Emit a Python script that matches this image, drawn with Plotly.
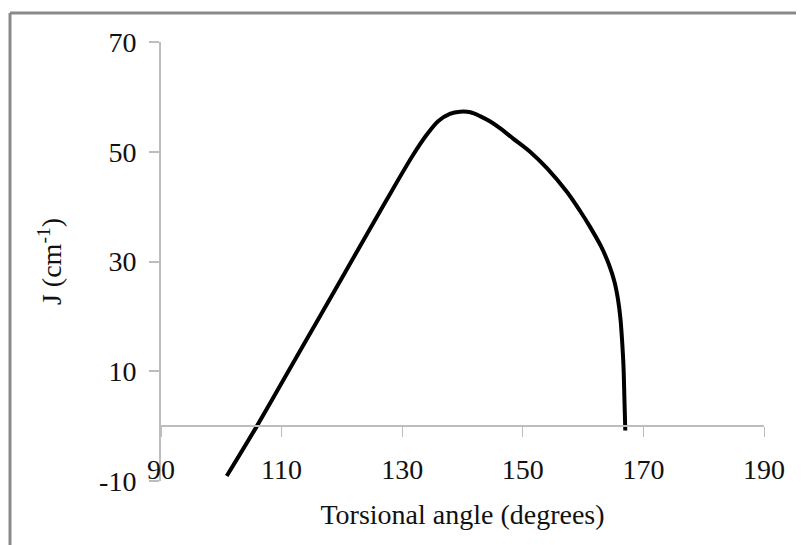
import plotly.graph_objects as go

# Data
torsional_angle = [100.9, 105.9, 113.0, 120.0, 127.4, 131.8, 134.0, 136.0, 137.9, 139.6,
                   141.3, 142.9, 144.6, 146.2, 148.4, 151.2, 154.0, 157.3, 159.5, 161.1,
                   163.0, 164.3, 165.2, 165.8, 166.2, 166.5, 166.7, 166.85, 167.0]
j_values = [-9.1, 0.0, 13.6, 27.0, 41.2, 49.4, 53.0, 55.6, 56.9, 57.3,
            57.2, 56.5, 55.5, 54.3, 52.4, 50.0, 47.0, 42.7, 39.2, 36.4,
            32.7, 29.4, 26.3, 23.0, 19.5, 15.0, 10.9, 5.0, -0.8]

x_ticks = [90, 110, 130, 150, 170, 190]
y_ticks = [-10, 10, 30, 50, 70]

FONT = "Liberation Serif, Times New Roman, serif"
AXIS_GRAY = "#bdbdbd"

fig = go.Figure()
fig.add_trace(go.Scatter(
    x=torsional_angle, y=j_values, mode="lines",
    line=dict(color="black", width=4, shape="spline", smoothing=0.9),
    showlegend=False, hoverinfo="x+y",
))

fig.update_layout(
    width=796, height=537,
    margin=dict(l=153, r=40, t=34, b=64),
    paper_bgcolor="white", plot_bgcolor="white",
    font=dict(family=FONT, size=28, color="#111111"),
    xaxis=dict(
        range=[90, 190], tickvals=x_ticks, ticktext=[str(v) for v in x_ticks],
        anchor="free", position=(0 - (-10)) / 80,
        showline=True, linecolor=AXIS_GRAY, linewidth=2,
        ticks="outside", ticklen=10, tickwidth=1, tickcolor=AXIS_GRAY,
        ticklabelstandoff=8, automargin=False,
        showgrid=False, zeroline=False,
        title=dict(text="Torsional angle (degrees)", font=dict(size=28), standoff=20),
    ),
    yaxis=dict(
        range=[-10, 70], tickvals=y_ticks, ticktext=[str(v) for v in y_ticks],
        showline=True, linecolor=AXIS_GRAY, linewidth=2,
        ticks="outside", ticklen=10, tickwidth=1.5, tickcolor=AXIS_GRAY,
        ticklabelstandoff=7, automargin=False,
        showgrid=False, zeroline=False,
        title=dict(text="J (cm<sup>-1</sup>)", font=dict(size=28), standoff=29),
    ),
    shapes=[
        dict(type="line", xref="paper", yref="paper",
             x0=-0.2504, x1=-0.2504, y0=-0.2, y1=1.066,
             line=dict(color="#8a8a8a", width=3)),
        dict(type="line", xref="paper", yref="paper",
             x0=-0.2504, x1=1.1, y0=1.066, y1=1.066,
             line=dict(color="#8a8a8a", width=3)),
    ],
)

fig.write_html("out.html")
